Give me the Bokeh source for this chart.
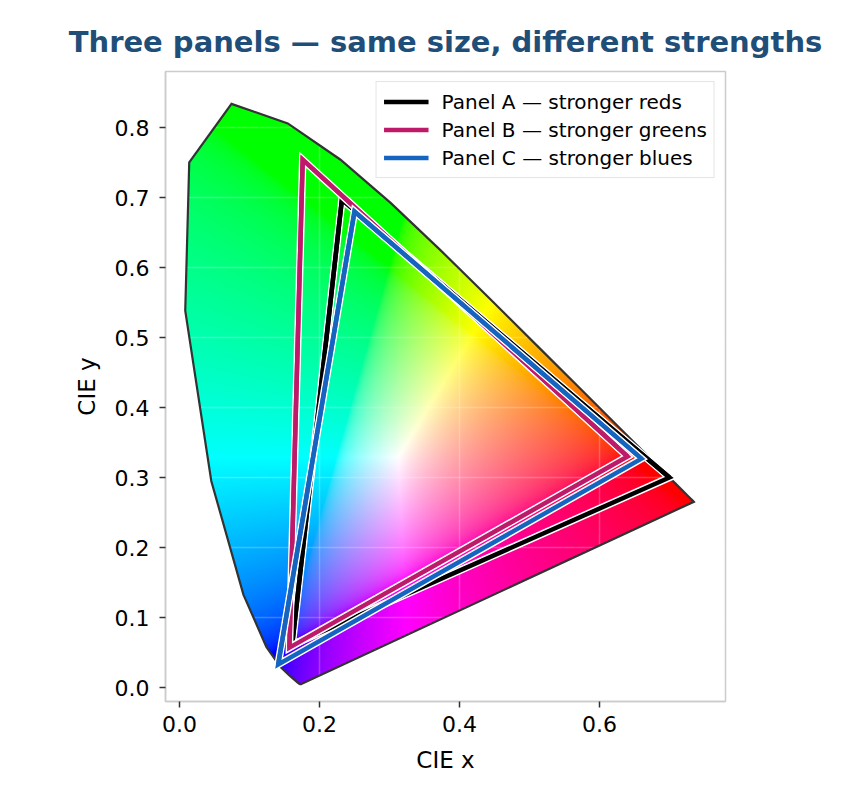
import numpy as np
from bokeh.plotting import figure
from bokeh.models import FixedTicker, CustomJSTickFormatter, Legend, LegendItem
from bokeh.embed import file_html
from bokeh.resources import INLINE

# ---------------- data ----------------
TITLE = "Three panels — same size, different strengths"
X_LABEL = "CIE x"
Y_LABEL = "CIE y"
X_TICKS = [0.0, 0.2, 0.4, 0.6]
Y_TICKS = [0.0, 0.1, 0.2, 0.3, 0.4, 0.5, 0.6, 0.7, 0.8]

# spectral locus (CIE 1931 2 deg), 380-700 nm every 10 nm
WAVELENGTHS = [380, 390, 400, 410, 420, 430, 440, 450, 460, 470, 480, 490, 500,
               510, 520, 530, 540, 550, 560, 570, 580, 590, 600, 610, 620, 630,
               640, 650, 660, 670, 680, 690, 700]
LOCUS_X = [0.1741, 0.1738, 0.1733, 0.1726, 0.1714, 0.1689, 0.1644, 0.1566, 0.1440,
           0.1241, 0.0913, 0.0454, 0.0082, 0.0139, 0.0743, 0.1547, 0.2296, 0.3016,
           0.3731, 0.4441, 0.5125, 0.5752, 0.6270, 0.6658, 0.6915, 0.7079, 0.7190,
           0.7260, 0.7300, 0.7320, 0.7334, 0.7344, 0.7347]
LOCUS_Y = [0.0050, 0.0049, 0.0048, 0.0048, 0.0051, 0.0069, 0.0109, 0.0177, 0.0297,
           0.0578, 0.1327, 0.2950, 0.5384, 0.7502, 0.8338, 0.8059, 0.7543, 0.6923,
           0.6245, 0.5547, 0.4866, 0.4242, 0.3725, 0.3340, 0.3083, 0.2920, 0.2809,
           0.2740, 0.2700, 0.2680, 0.2666, 0.2656, 0.2653]

PANEL_NAMES = ["Panel A — stronger reds", "Panel B — stronger greens", "Panel C — stronger blues"]
PANEL_COLORS = ["#000000", "#bd1b6a", "#1565c0"]
# primaries R, G, B
PANEL_A_X = [0.700, 0.232, 0.161]
PANEL_A_Y = [0.300, 0.697, 0.061]
PANEL_B_X = [0.640, 0.176, 0.157]
PANEL_B_Y = [0.330, 0.754, 0.057]
PANEL_C_X = [0.660, 0.250, 0.141]
PANEL_C_Y = [0.327, 0.680, 0.033]

# ---------------- chromaticity colour image ----------------
IX0, IX1, IY0, IY1 = 0.0, 0.74, 0.0, 0.84
NX, NY = 518, 588
xs = IX0 + (np.arange(NX) + 0.5) * (IX1 - IX0) / NX
ys = IY0 + (np.arange(NY) + 0.5) * (IY1 - IY0) / NY
GX, GY = np.meshgrid(xs, ys)
Ysafe = np.maximum(GY, 1e-6)
XYZ = np.stack([GX / Ysafe, np.ones_like(GX), (1.0 - GX - GY) / Ysafe], axis=-1)
M = np.array([[3.2406, -1.5372, -0.4986],
              [-0.9689, 1.8758, 0.0415],
              [0.0557, -0.2040, 1.0570]])
rgb = XYZ @ M.T
rgb = np.clip(rgb, 0.0, None)
rgb = rgb / np.maximum(rgb.max(axis=-1, keepdims=True), 1e-9)
enc = np.where(rgb <= 0.0031308, 12.92 * rgb, 1.055 * np.power(rgb, 1 / 2.4) - 0.055)
enc = np.clip(enc, 0, 1)

px = np.array(LOCUS_X)
py = np.array(LOCUS_Y)
inside = np.zeros(GX.shape, dtype=bool)
j = len(px) - 1
for i in range(len(px)):
    xi, yi, xj, yj = px[i], py[i], px[j], py[j]
    den = (yj - yi) if abs(yj - yi) > 1e-12 else 1e-12
    cond = ((yi > GY) != (yj > GY)) & (GX < (xj - xi) * (GY - yi) / den + xi)
    inside ^= cond
    j = i

img = np.zeros((NY, NX), dtype=np.uint32)
view = img.view(dtype=np.uint8).reshape((NY, NX, 4))
view[..., 0] = np.round(enc[..., 0] * 255).astype(np.uint8)
view[..., 1] = np.round(enc[..., 1] * 255).astype(np.uint8)
view[..., 2] = np.round(enc[..., 2] * 255).astype(np.uint8)
view[..., 3] = np.where(inside, 255, 0).astype(np.uint8)

# ---------------- figure ----------------
p = figure(width=856, height=792, x_range=(-0.02, 0.78), y_range=(-0.02, 0.88),
           output_backend="svg", toolbar_location=None,
           min_border_left=165, min_border_right=131, min_border_top=71, min_border_bottom=91)
p.background_fill_color = "white"
p.border_fill_color = "white"
p.outline_line_color = "#cccccc"
p.outline_line_width = 1.5

p.title.text = TITLE
p.title.text_font = "DejaVu Sans"
p.title.text_font_size = "29px"
p.title.text_font_style = "bold"
p.title.text_color = "#1f4e79"
p.title.align = "center"
p.title.standoff = 25

r_img = p.image_rgba(image=[img], x=IX0, y=IY0, dw=IX1 - IX0, dh=IY1 - IY0)
r_img.level = "image"

for g, t in ((p.xgrid, X_TICKS), (p.ygrid, Y_TICKS)):
    g.ticker = FixedTicker(ticks=t)
    g.grid_line_color = "white"
    g.grid_line_alpha = 0.22
    g.grid_line_width = 1.5

p.patch(LOCUS_X, LOCUS_Y, fill_alpha=0, line_color="#333333", line_width=2.2, line_join="miter")

items = []
for name, col, tx, ty in zip(PANEL_NAMES, PANEL_COLORS,
                             [PANEL_A_X, PANEL_B_X, PANEL_C_X],
                             [PANEL_A_Y, PANEL_B_Y, PANEL_C_Y]):
    p.patch(tx, ty, fill_alpha=0, line_color="white", line_width=7.5, line_join="miter")
    p.patch(tx, ty, fill_alpha=0, line_color=col, line_width=4.5, line_join="miter")
    leg = p.line(tx, ty, line_color=col, line_width=4.5, line_join="miter")
    items.append(LegendItem(label=name, renderers=[leg]))

legend = Legend(items=items, location="top_right")
legend.label_text_font = "DejaVu Sans"
legend.label_text_font_size = "20px"
legend.label_text_color = "black"
legend.glyph_width = 45
legend.glyph_height = 25
legend.label_height = 25
legend.label_standoff = 13
legend.spacing = 3
legend.padding = 7
legend.margin = 10
legend.border_line_color = "#cccccc"
legend.border_line_width = 1.2
legend.background_fill_alpha = 0.85
p.add_layout(legend)

fmt = CustomJSTickFormatter(code="return tick.toFixed(1);")
for ax, t, lab, mstand, lstand in ((p.xaxis[0], X_TICKS, X_LABEL, 8, 12),
                                   (p.yaxis[0], Y_TICKS, Y_LABEL, 10, 12)):
    ax.ticker = FixedTicker(ticks=t)
    ax.formatter = fmt
    ax.axis_label = lab
    ax.axis_label_text_font = "DejaVu Sans"
    ax.axis_label_text_font_size = "23px"
    ax.axis_label_text_font_style = "normal"
    ax.axis_label_text_color = "black"
    ax.major_label_text_font = "DejaVu Sans"
    ax.major_label_text_font_size = "22px"
    ax.major_label_text_color = "black"
    ax.major_tick_out = 6
    ax.major_tick_in = 0
    ax.major_tick_line_width = 1.5
    ax.major_tick_line_color = "#333333"
    ax.minor_tick_line_color = None
    ax.axis_line_color = "#cccccc"
    ax.axis_line_width = 1.5
    ax.major_label_standoff = mstand
    ax.axis_label_standoff = lstand

open("out.html", "w").write(file_html(p, INLINE))
